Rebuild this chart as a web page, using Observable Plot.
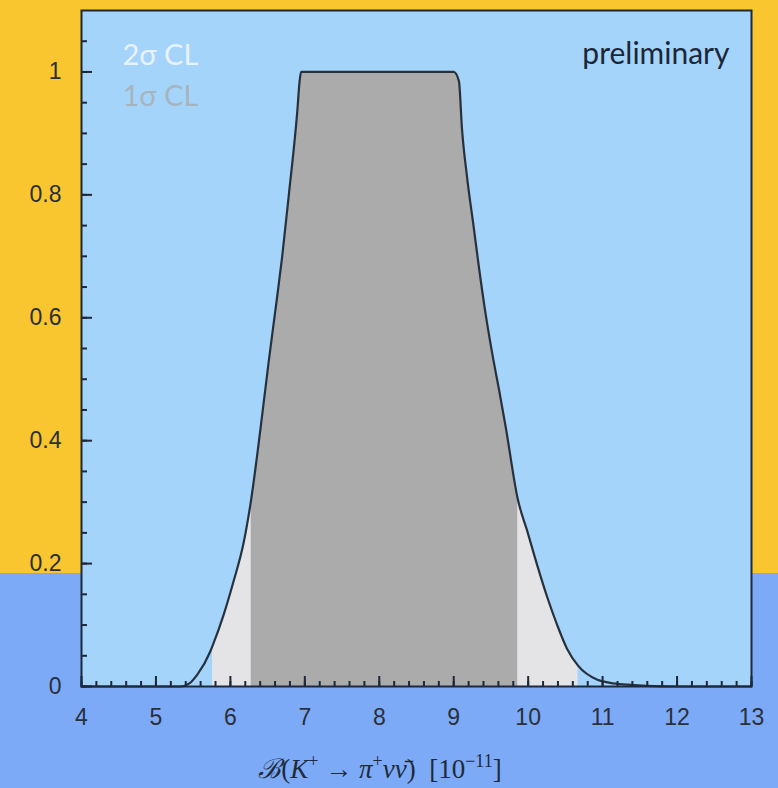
<!DOCTYPE html>
<html><head><meta charset="utf-8">
<script src="https://cdn.jsdelivr.net/npm/d3@7"></script>
<script src="https://cdn.jsdelivr.net/npm/@observablehq/plot@0.6"></script>
<style>
html,body{margin:0;padding:0;}
body{width:778px;height:788px;overflow:hidden;
background:linear-gradient(to bottom,#F9C62F 0px,#F9C62F 573px,#7DAAF6 573px,#7DAAF6 100%);}
#chart svg{display:block;}
</style></head><body><div id="chart"></div>
<script>
// Branching ratio B(K+ -> pi+ nu nubar) in units of 1e-11
const brValues = [4, 5.0, 5.33, 5.45, 5.56, 5.73, 5.76, 5.91, 6.04, 6.18, 6.28, 6.405, 6.516, 6.629, 6.696, 6.785, 6.898, 6.93, 6.95, 7.3, 7.7, 8.0, 8.4, 8.8, 9.0, 9.07, 9.11, 9.18, 9.27, 9.34, 9.43, 9.52, 9.61, 9.70, 9.86, 9.99, 10.12, 10.26, 10.39, 10.52, 10.67, 10.93, 11.1, 11.34, 11.6, 12, 13];
// Confidence level curve
const clValues = [0, 0, 0, 0.005, 0.02, 0.057, 0.066, 0.117, 0.17, 0.235, 0.305, 0.42, 0.53, 0.635, 0.70, 0.80, 0.935, 0.985, 1.0, 1.0, 1.0, 1.0, 1.0, 1.0, 1.0, 0.985, 0.909, 0.828, 0.746, 0.681, 0.605, 0.540, 0.482, 0.421, 0.305, 0.252, 0.198, 0.144, 0.10, 0.062, 0.034, 0.011, 0.006, 0.003, 0.001, 0, 0];
const sigma1Range = [6.28, 9.86];
const sigma2Range = [5.76, 10.67];
const xTicks = [4, 5, 6, 7, 8, 9, 10, 11, 12, 13];
const yTicks = [0, 0.2, 0.4, 0.6, 0.8, 1];
const yTickLabels = ["0", "0.2", "0.4", "0.6", "0.8", "1"];
const xMinorTicks = d3.range(4, 13.001, 0.2);
const yMinorTicks = d3.range(0, 1.0501, 0.05);
const legendLabels = ["2σ CL", "1σ CL"];
const noteLabel = ["preliminary"];

const data = brValues.map((x, i) => ({x, y: clValues[i]}));
const ink = "#1d2838";

const chart = Plot.plot({
  width: 778, height: 788,
  marginLeft: 81, marginRight: 27, marginTop: 10, marginBottom: 102,
  style: {background: "transparent", fontFamily: "'Liberation Sans', Arial, sans-serif", fontSize: "23px", color: "#2a2f38", overflow: "visible"},
  x: {domain: [4, 13]},
  y: {domain: [0, 1.1]},
  marks: [
    Plot.frame({fill: "#A5D4FB", stroke: null}),
    Plot.areaY(data.filter(d => d.x >= sigma2Range[0] && d.x <= sigma2Range[1]), {x: "x", y: "y", fill: "#E4E4E6", curve: "monotone-x"}),
    Plot.areaY(data.filter(d => d.x >= sigma1Range[0] && d.x <= sigma1Range[1]), {x: "x", y: "y", fill: "#ABABAB", curve: "monotone-x"}),
    Plot.line(data, {x: "x", y: "y", stroke: "#27313d", strokeWidth: 2.2, curve: "monotone-x"}),
    Plot.axisX({ticks: xMinorTicks, tickSize: -5, tickFormat: () => "", label: null, color: ink, strokeWidth: 2}),
    Plot.axisX({ticks: xTicks, tickSize: -10, tickFormat: () => "", label: null, color: ink, strokeWidth: 2}),
    Plot.axisX({ticks: xTicks, tickSize: 0, tickPadding: 22, tickFormat: d => String(d), label: null, fill: "#2a2f38"}),
    Plot.axisY({ticks: yMinorTicks, tickSize: -6, tickFormat: () => "", label: null, color: ink, strokeWidth: 2}),
    Plot.axisY({ticks: yTicks, tickSize: -11, tickFormat: () => "", label: null, color: ink, strokeWidth: 2}),
    Plot.axisY({ticks: yTicks, tickSize: 0, tickPadding: 20, tickFormat: (d, i) => yTickLabels[i], label: null, fill: "#2a2f38"}),
    Plot.frame({stroke: ink, strokeWidth: 2}),
    Plot.text([legendLabels[0]], {text: d => d, frameAnchor: "top-left", textAnchor: "start", lineAnchor: "middle", dx: 41, dy: 45, fill: "#E9F2FB", fontSize: 29, fontFamily: "Lato, 'Noto Sans', sans-serif", letterSpacing: 2.5}),
    Plot.text([legendLabels[1]], {text: d => d, frameAnchor: "top-left", textAnchor: "start", lineAnchor: "middle", dx: 41, dy: 86, fill: "#A6B4BF", fontSize: 29, fontFamily: "Lato, 'Noto Sans', sans-serif", letterSpacing: 2.5}),
    Plot.text(noteLabel, {text: d => d, frameAnchor: "top-right", textAnchor: "end", lineAnchor: "middle", dx: -22, dy: 44, fill: "#1b2738", fontSize: 30, fontFamily: "Lato, 'Noto Sans', sans-serif", letterSpacing: 1.3})
  ]
});
document.getElementById("chart").appendChild(chart);

// x-axis title with italics and superscripts
const parts = [
  {t: "ℬ", i: true}, {t: "("}, {t: "K", i: true}, {t: "+", s: true}, {t: " → "},
  {t: "π", i: true}, {t: "+", s: true}, {t: "νν̄", i: true}, {t: ")  ["}, {t: "10"}, {t: "−11", s: true}, {t: "]"}
];
const title = d3.select(chart).append("text")
  .attr("x", 380).attr("y", 778).attr("text-anchor", "middle")
  .attr("font-family", "'Liberation Serif', 'DejaVu Serif', serif")
  .attr("font-size", 27).attr("fill", "#1f2a3a");
let shifted = false;
for (const p of parts) {
  const ts = title.append("tspan").text(p.t);
  if (p.i) ts.attr("font-style", "italic");
  if (p.s && !shifted) { ts.attr("dy", -11).attr("font-size", 18); shifted = true; }
  else if (p.s) { ts.attr("font-size", 18); }
  else if (shifted) { ts.attr("dy", 11); shifted = false; }
}
</script></body></html>
